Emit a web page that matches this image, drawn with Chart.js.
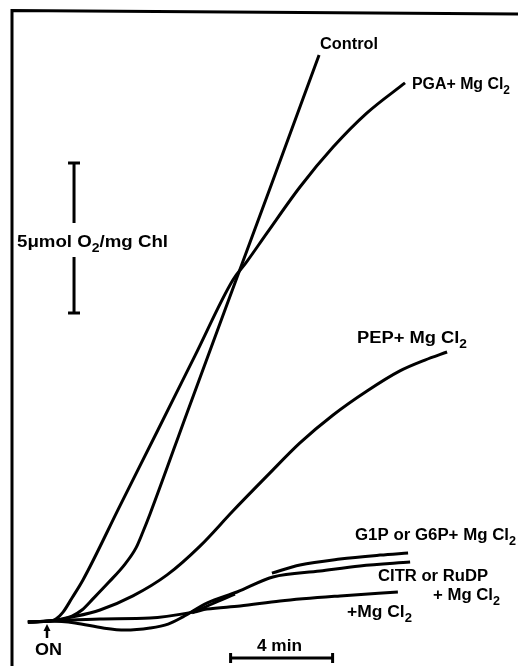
<!DOCTYPE html>
<html>
<head>
<meta charset="utf-8">
<script src="https://cdn.jsdelivr.net/npm/chart.js@4/dist/chart.umd.min.js"></script>
<style>
  body { margin: 0; background: #fff; }
  #wrap { width: 518px; height: 666px; position: relative; }
</style>
</head>
<body>
<div id="wrap"><canvas id="o2chart"></canvas></div>
<script>
// [time after light ON (min), O2 evolved (umol / mg Chl)]
var control = [[-0.75,0],[0.12,0.03],[0.59,0.10],[0.98,0.20],[1.37,0.40],[1.80,0.77],[2.43,1.33],[3.06,1.93],
               [3.49,2.47],[3.76,3.00],[4.04,3.60],[5.49,6.97],[7.37,11.30],[8.75,14.47],[10.67,18.90]]
var pga = [[-0.75,0],[0.12,0.03],[0.35,0.10],[0.63,0.33],[0.98,0.80],[1.41,1.40],[2.86,3.87],[4.35,6.40],
           [5.80,8.87],[7.29,11.40],[7.80,11.97],[8.63,12.97],[9.92,14.50],[11.22,15.83],[12.55,16.97],[14.04,17.97]]
var pep = [[-0.75,0],[0.12,0.03],[1.02,0.17],[2.08,0.40],[3.37,0.87],[4.71,1.57],[6.00,2.53],[7.29,3.70],
           [8.63,4.87],[9.92,5.97],[11.22,6.90],[12.55,7.70],[13.84,8.37],[14.82,8.73],[15.69,9.00]]
var g1p = [[5.69,0.30],[6.47,0.60],[7.37,0.93],[8.0,null],[8.82,1.63],[9.92,1.90],[11.49,2.10],[13.06,2.23],[14.16,2.30]]
var citr = [[-0.75,0],[0.12,0.03],[1.10,-0.03],[2.20,-0.20],[3.06,-0.27],[4.04,-0.20],[4.75,-0.07],[5.33,0.17],
            [6.27,0.63],[7.45,1.00],[8.86,1.50],[10.71,1.70],[12.27,1.87],[14.24,2.00]]
var mgcl2 = [[-0.75,0],[0.12,0.03],[2.08,0.10],[4.04,0.13],[5.73,0.33],[6.27,0.43],[7.57,0.53],[9.14,0.70],
             [11.49,0.87],[13.76,1.00]]
// scale bars: 5 umol O2/mg Chl and 4 min
var o2Bar = [[1.06,15.3],[1.06,13.3],[1.06,null],[1.06,12.17],[1.06,10.3]]
var timeBar = [[7.2,-1.2],[11.2,-1.2]]

var labels = [
  {parts: [['Control']], x: 320, y: 49, w: 58},
  {parts: [['PGA+ Mg Cl'], ['2', 1]], x: 412, y: 89, w: 98},
  {parts: [['5\u03bcmol O'], ['2', 1], ['/mg Chl']], x: 17, y: 247, w: 151},
  {parts: [['PEP+ Mg Cl'], ['2', 1]], x: 357, y: 343, w: 110},
  {parts: [['G1P or G6P+ Mg Cl'], ['2', 1]], x: 355, y: 540, w: 161},
  {parts: [['CITR or RuDP']], x: 378, y: 581, w: 110},
  {parts: [['+ Mg Cl'], ['2', 1]], x: 433, y: 600, w: 67},
  {parts: [['+Mg Cl'], ['2', 1]], x: 347, y: 617, w: 65},
  {parts: [['ON']], x: 35, y: 655, w: 27},
  {parts: [['4 min']], x: 257, y: 651, w: 45}
]

function pts(arr) {
  return arr.map(function(p) { return {x: p[0], y: p[1]} })
}

function trace(name, arr) {
  return {
    label: name, data: pts(arr), borderColor: '#000', borderWidth: 3,
    pointRadius: 0, fill: false, cubicInterpolationMode: 'monotone', spanGaps: false
  }
}

function drawLabel(ctx, l) {
  var big = 'bold 16px "Liberation Sans", Arial, sans-serif'
  var small = 'bold 12px "Liberation Sans", Arial, sans-serif'
  var natural = 0
  l.parts.forEach(function(p) {
    ctx.font = p[1] ? small : big
    natural += ctx.measureText(p[0]).width
  })
  ctx.save()
  ctx.translate(l.x, l.y)
  ctx.scale(l.w / natural, 1)
  var cx = 0
  l.parts.forEach(function(p) {
    ctx.font = p[1] ? small : big
    ctx.fillText(p[0], cx, p[1] ? 5 : 0)
    cx += ctx.measureText(p[0]).width
  })
  ctx.restore()
}

var decor = {
  id: 'decor',
  afterDatasetsDraw: function(chart) {
    var ctx = chart.ctx
    ctx.save()
    ctx.strokeStyle = '#000'
    ctx.fillStyle = '#000'
    // frame (top and left edge of the original figure)
    ctx.lineWidth = 3
    ctx.beginPath()
    ctx.moveTo(12, 666)
    ctx.lineTo(12, 10.5)
    ctx.lineTo(518, 14)
    ctx.stroke()
    // light ON arrow
    var x0 = chart.scales.x.getPixelForValue(0)
    ctx.lineWidth = 2.5
    ctx.beginPath()
    ctx.moveTo(x0, 638)
    ctx.lineTo(x0, 628)
    ctx.stroke()
    ctx.beginPath()
    ctx.moveTo(x0 - 3.5, 631)
    ctx.lineTo(x0, 624)
    ctx.lineTo(x0 + 3.5, 631)
    ctx.closePath()
    ctx.fill()
    labels.forEach(function(l) { drawLabel(ctx, l) })
    ctx.restore()
  }
}

var ctx = document.getElementById('o2chart').getContext('2d')
new Chart(ctx, {
  type: 'line',
  data: {
    datasets: [
      trace('Control', control),
      trace('PGA + MgCl2', pga),
      trace('PEP + MgCl2', pep),
      trace('G1P or G6P + MgCl2', g1p),
      trace('CITR or RuDP + MgCl2', citr),
      trace('+MgCl2', mgcl2),
      {
        label: 'o2 bar', data: pts(o2Bar), borderColor: '#000', borderWidth: 3, tension: 0,
        pointStyle: 'line', pointRadius: [6, 0, 0, 0, 6], pointBorderWidth: 3,
        pointBorderColor: '#000', pointRotation: 0, spanGaps: false
      },
      {
        label: 'time bar', data: pts(timeBar), borderColor: '#000', borderWidth: 3, tension: 0,
        pointStyle: 'line', pointRadius: 5, pointBorderWidth: 3,
        pointBorderColor: '#000', pointRotation: 90
      }
    ]
  },
  options: {
    responsive: true,
    maintainAspectRatio: false,
    animation: false,
    layout: { padding: 0, autoPadding: false },
    plugins: { legend: { display: false }, tooltip: { enabled: false } },
    scales: {
      x: { type: 'linear', display: false, min: -47 / 25.5, max: 471 / 25.5 },
      y: { type: 'linear', display: false, min: -44 / 30, max: 622 / 30 }
    }
  },
  plugins: [decor]
})
</script>
</body>
</html>
